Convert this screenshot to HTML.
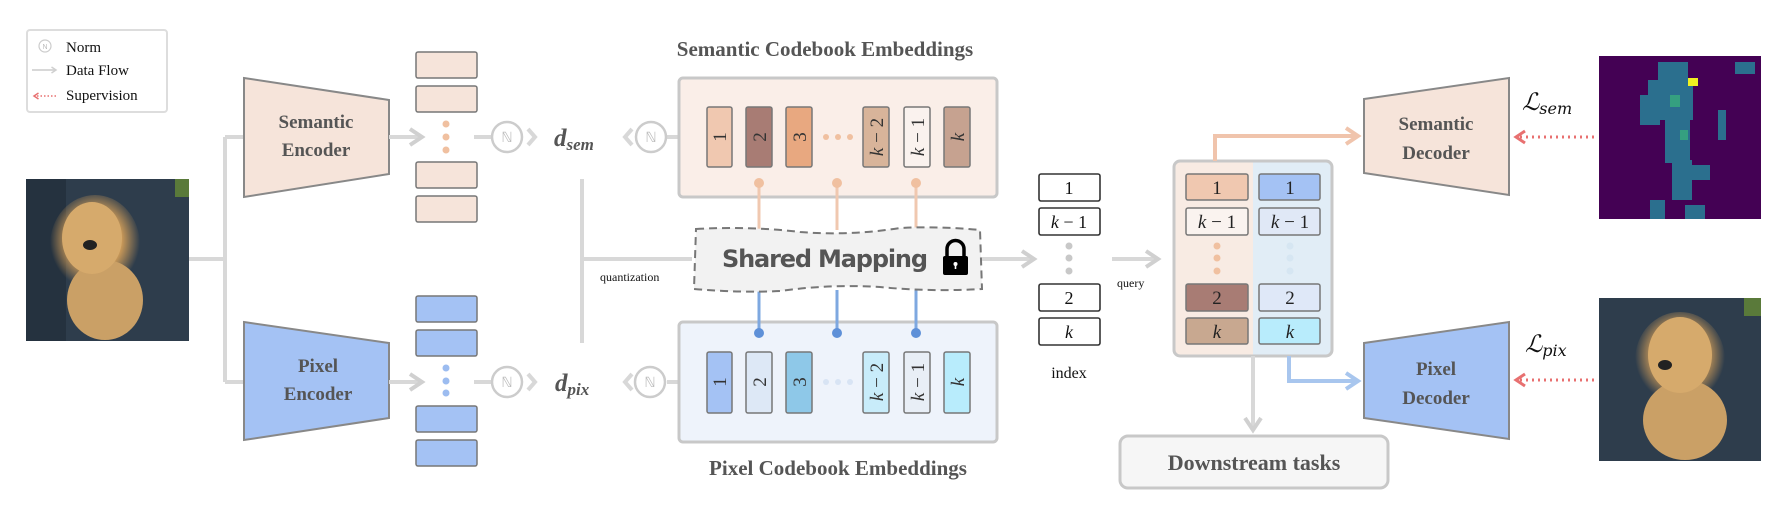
<!DOCTYPE html>
<html><head><meta charset="utf-8"><style>
html,body{margin:0;padding:0;background:#fff}
svg{display:block}
.t{font-family:"Liberation Serif",serif;font-weight:bold;fill:#555}
</style></head><body>
<svg width="1780" height="516" viewBox="0 0 1780 516" xmlns="http://www.w3.org/2000/svg">
<defs>
<marker id="ag" viewBox="0 0 10 10" refX="7" refY="5" markerWidth="5" markerHeight="5" orient="auto"><path d="M1 1 L7 5 L1 9" fill="none" stroke="#d0d0d0" stroke-width="2"/></marker>
<marker id="ao" viewBox="0 0 10 10" refX="7" refY="5" markerWidth="5" markerHeight="5" orient="auto"><path d="M1 1 L7 5 L1 9" fill="none" stroke="#f0c4ac" stroke-width="2"/></marker>
<marker id="ab" viewBox="0 0 10 10" refX="7" refY="5" markerWidth="5" markerHeight="5" orient="auto"><path d="M1 1 L7 5 L1 9" fill="none" stroke="#a8c6ee" stroke-width="2"/></marker>
<marker id="ar" viewBox="0 0 10 10" refX="7" refY="5" markerWidth="5" markerHeight="5" orient="auto"><path d="M1 1 L7 5 L1 9" fill="none" stroke="#e87070" stroke-width="2"/></marker>
<radialGradient id="dog" cx="0.5" cy="0.45" r="0.5"><stop offset="0" stop-color="#d8a868"/><stop offset="0.6" stop-color="#c89858"/><stop offset="1" stop-color="#c89858" stop-opacity="0"/></radialGradient>
</defs>

<rect x="27" y="30" width="140" height="82" rx="3" fill="#fff" stroke="#ddd" stroke-width="2"/>
<circle cx="45" cy="46" r="6" fill="none" stroke="#ccc" stroke-width="1.2"/>
<text x="45" y="49" font-size="7" text-anchor="middle" fill="#bbb" font-family="Liberation Sans">N</text>
<text x="66" y="52" font-family="Liberation Serif" font-size="15" fill="#111">Norm</text>
<line x1="32" y1="70" x2="56" y2="70" stroke="#ccc" stroke-width="1.5" marker-end="url(#ag)"/>
<text x="66" y="75" font-family="Liberation Serif" font-size="15" fill="#111">Data Flow</text>
<line x1="56" y1="96" x2="34" y2="96" stroke="#e87070" stroke-width="1.5" stroke-dasharray="1.5 2" marker-end="url(#ar)"/>
<text x="66" y="100" font-family="Liberation Serif" font-size="15" fill="#111">Supervision</text>

<rect x="26" y="179" width="163" height="162" fill="#2e3d4c"/>
<rect x="26" y="179" width="40" height="162" fill="#25323f"/>
<rect x="175" y="179" width="14" height="18" fill="#5a7a3a"/>
<ellipse cx="95" cy="245" rx="45" ry="50" fill="url(#dog)"/>
<ellipse cx="105" cy="300" rx="38" ry="40" fill="#caa066"/>
<ellipse cx="92" cy="238" rx="30" ry="36" fill="#d6aa6c"/>
<ellipse cx="90" cy="245" rx="7" ry="5" fill="#222"/>

<g stroke="#d8d8d8" stroke-width="4" fill="none">
<path d="M189 259 H225 M225 137 V382 M225 137 H244 M225 382 H244"/>
</g>

<polygon points="244,78 389,100 389,174 244,197" fill="#f6e4da" stroke="#888" stroke-width="2"/>
<text class="t" x="316" y="128" font-size="19" text-anchor="middle">Semantic</text>
<text class="t" x="316" y="156" font-size="19" text-anchor="middle">Encoder</text>
<polygon points="244,322 389,343 389,418 244,440" fill="#a4c2f4" stroke="#888" stroke-width="2"/>
<text class="t" x="318" y="372" font-size="19" text-anchor="middle">Pixel</text>
<text class="t" x="318" y="400" font-size="19" text-anchor="middle">Encoder</text>

<g stroke="#d8d8d8" stroke-width="4" fill="none">
<line x1="389" y1="137" x2="422" y2="137" marker-end="url(#ag)"/>
<line x1="389" y1="382" x2="422" y2="382" marker-end="url(#ag)"/>
</g>

<g stroke="#777" stroke-width="1.5" fill="#f6e4da">
<rect x="416" y="52" width="61" height="26" rx="2"/><rect x="416" y="86" width="61" height="26" rx="2"/>
<rect x="416" y="162" width="61" height="26" rx="2"/><rect x="416" y="196" width="61" height="26" rx="2"/>
</g>
<g fill="#f0c0a0"><circle cx="446" cy="124" r="3.5"/><circle cx="446" cy="137" r="3.5"/><circle cx="446" cy="150" r="3.5"/></g>
<g stroke="#777" stroke-width="1.5" fill="#a4c2f4">
<rect x="416" y="296" width="61" height="26" rx="2"/><rect x="416" y="330" width="61" height="26" rx="2"/>
<rect x="416" y="406" width="61" height="26" rx="2"/><rect x="416" y="440" width="61" height="26" rx="2"/>
</g>
<g fill="#9cbcf0"><circle cx="446" cy="368" r="3.5"/><circle cx="446" cy="381" r="3.5"/><circle cx="446" cy="393" r="3.5"/></g>

<g stroke="#d8d8d8" stroke-width="4" fill="none">
<line x1="474" y1="137" x2="491" y2="137"/><line x1="474" y1="382" x2="491" y2="382"/>
<path d="M528 129 L535 137 L528 145 M528 374 L535 382 L528 390"/>
<path d="M632 129 L625 137 L632 145 M632 374 L625 382 L632 390"/>
<line x1="667" y1="137" x2="680" y2="137"/><line x1="667" y1="382" x2="680" y2="382"/>
<path d="M582 179 V343 M582 259 H692"/>
</g>
<g fill="#fff" stroke="#ccc" stroke-width="2.5">
<circle cx="507" cy="137" r="15"/><circle cx="651" cy="137" r="15"/>
<circle cx="507" cy="382" r="15"/><circle cx="650" cy="382" r="15"/>
</g>
<g font-family="Liberation Sans" font-size="14" fill="#bbb" text-anchor="middle">
<text x="507" y="142">ℕ</text><text x="651" y="142">ℕ</text><text x="507" y="387">ℕ</text><text x="650" y="387">ℕ</text>
</g>
<text x="554" y="146" font-family="Liberation Serif" font-style="italic" font-weight="bold" font-size="25" fill="#555">d<tspan font-size="17" dy="4">sem</tspan></text>
<text x="555" y="391" font-family="Liberation Serif" font-style="italic" font-weight="bold" font-size="25" fill="#555">d<tspan font-size="17" dy="4">pix</tspan></text>
<text x="600" y="281" font-family="Liberation Serif" font-size="12" fill="#111">quantization</text>

<text class="t" x="825" y="56" font-size="21" text-anchor="middle">Semantic Codebook Embeddings</text>
<rect x="679" y="78" width="318" height="119" rx="4" fill="#faeee8" stroke="#c8c8c8" stroke-width="3"/>
<rect x="679" y="322" width="318" height="120" rx="4" fill="#eef3fb" stroke="#c8c8c8" stroke-width="3"/>
<text class="t" x="838" y="475" font-size="21" text-anchor="middle">Pixel Codebook Embeddings</text>

<g stroke="#777" stroke-width="1.5">
<rect x="707" y="107" width="25" height="60" rx="2" fill="#f0c8b0"/>
<rect x="746" y="107" width="26" height="60" rx="2" fill="#a87c74"/>
<rect x="786" y="107" width="26" height="60" rx="2" fill="#e8a880"/>
<rect x="863" y="107" width="26" height="60" rx="2" fill="#d8b49a"/>
<rect x="904" y="107" width="26" height="60" rx="2" fill="#faf2ee"/>
<rect x="944" y="107" width="26" height="60" rx="2" fill="#c6a290"/>
<rect x="707" y="352" width="25" height="61" rx="2" fill="#a4c2f4"/>
<rect x="746" y="352" width="26" height="61" rx="2" fill="#dde8f6"/>
<rect x="786" y="352" width="26" height="61" rx="2" fill="#8ec8e8"/>
<rect x="863" y="352" width="26" height="61" rx="2" fill="#c8ecfa"/>
<rect x="904" y="352" width="26" height="61" rx="2" fill="#e8eef6"/>
<rect x="944" y="352" width="26" height="61" rx="2" fill="#b8ecfc"/>
</g>
<g fill="#f0c0a0"><circle cx="826" cy="137" r="3"/><circle cx="838" cy="137" r="3"/><circle cx="850" cy="137" r="3"/></g>
<g fill="#d8e4f4"><circle cx="826" cy="382" r="3"/><circle cx="838" cy="382" r="3"/><circle cx="850" cy="382" r="3"/></g>
<g font-family="Liberation Serif" font-size="19" fill="#333" text-anchor="middle">
<text transform="translate(726,137) rotate(-90)">1</text>
<text transform="translate(766,137) rotate(-90)">2</text>
<text transform="translate(806,137) rotate(-90)">3</text>
<text transform="translate(883,137) rotate(-90)"><tspan font-style="italic">k</tspan> − 2</text>
<text transform="translate(924,137) rotate(-90)"><tspan font-style="italic">k</tspan> − 1</text>
<text transform="translate(964,137) rotate(-90)" font-style="italic">k</text>
<text transform="translate(726,382) rotate(-90)">1</text>
<text transform="translate(766,382) rotate(-90)">2</text>
<text transform="translate(806,382) rotate(-90)">3</text>
<text transform="translate(883,382) rotate(-90)"><tspan font-style="italic">k</tspan> − 2</text>
<text transform="translate(924,382) rotate(-90)"><tspan font-style="italic">k</tspan> − 1</text>
<text transform="translate(964,382) rotate(-90)" font-style="italic">k</text>
</g>

<g stroke="#f0c8b0" stroke-width="3"><line x1="759" y1="183" x2="759" y2="230"/><line x1="837" y1="183" x2="837" y2="230"/><line x1="916" y1="183" x2="916" y2="230"/></g>
<g fill="#f0c0a0"><circle cx="759" cy="183" r="5"/><circle cx="837" cy="183" r="5"/><circle cx="916" cy="183" r="5"/></g>
<g stroke="#7ea8e0" stroke-width="3"><line x1="759" y1="290" x2="759" y2="333"/><line x1="837" y1="290" x2="837" y2="333"/><line x1="916" y1="290" x2="916" y2="333"/></g>
<g fill="#5e90d8"><circle cx="759" cy="333" r="5"/><circle cx="837" cy="333" r="5"/><circle cx="916" cy="333" r="5"/></g>

<path d="M696 229 Q750 226 800 232 Q850 236 900 228 Q940 226 980 230 L982 289 Q930 292 880 287 Q830 284 780 291 Q740 293 694 289 Z" fill="#f2f2f2" stroke="#777" stroke-width="2" stroke-dasharray="8 5"/>
<text x="722" y="267" font-family="DejaVu Sans" font-weight="bold" font-size="24" fill="#555" textLength="206">Shared Mapping</text>
<rect x="943" y="256" width="25" height="19" rx="2" fill="#000"/>
<path d="M947 256 V249 A8.5 8.5 0 0 1 964 249 V256" fill="none" stroke="#000" stroke-width="3.5"/>
<circle cx="955.5" cy="264" r="2" fill="#fff"/><rect x="954.7" y="264" width="1.6" height="5" fill="#fff"/>

<g stroke="#d8d8d8" stroke-width="4" fill="none">
<line x1="982" y1="259" x2="1034" y2="259" marker-end="url(#ag)"/>
<line x1="1112" y1="259" x2="1158" y2="259" marker-end="url(#ag)"/>
</g>

<g stroke="#333" stroke-width="1.6" fill="#fff">
<rect x="1039" y="174" width="61" height="27" rx="2"/><rect x="1039" y="208" width="61" height="27" rx="2"/>
<rect x="1039" y="284" width="61" height="27" rx="2"/><rect x="1039" y="318" width="61" height="27" rx="2"/>
</g>
<g fill="#c8c8c8"><circle cx="1069" cy="246" r="3.5"/><circle cx="1069" cy="258" r="3.5"/><circle cx="1069" cy="271" r="3.5"/></g>
<g font-family="Liberation Serif" font-size="18" fill="#111" text-anchor="middle">
<text x="1069" y="194">1</text><text x="1069" y="228"><tspan font-style="italic">k</tspan> − 1</text>
<text x="1069" y="304">2</text><text x="1069" y="338" font-style="italic">k</text>
<text x="1069" y="378" font-size="16">index</text>
</g>
<text x="1117" y="287" font-family="Liberation Serif" font-size="12" fill="#111">query</text>

<path d="M1253 161 V356 H1180 Q1174 356 1174 350 V167 Q1174 161 1180 161 Z" fill="#f8ebe3"/>
<path d="M1253 161 V356 H1326 Q1332 356 1332 350 V167 Q1332 161 1326 161 Z" fill="#e1edf6"/>
<rect x="1174" y="161" width="158" height="195" rx="6" fill="none" stroke="#c8c8c8" stroke-width="3"/>
<g stroke="#777" stroke-width="1.5">
<rect x="1186" y="174" width="62" height="26" rx="2" fill="#f0c8b0"/><rect x="1259" y="174" width="61" height="26" rx="2" fill="#a4c2f4"/>
<rect x="1186" y="208" width="62" height="27" rx="2" fill="#faf3ef"/><rect x="1259" y="208" width="61" height="27" rx="2" fill="#e0e8f6"/>
<rect x="1186" y="284" width="62" height="27" rx="2" fill="#a87c74"/><rect x="1259" y="284" width="61" height="27" rx="2" fill="#dfe8f8"/>
<rect x="1186" y="318" width="62" height="26" rx="2" fill="#c8a890"/><rect x="1259" y="318" width="61" height="26" rx="2" fill="#b8ecfc"/>
</g>
<g fill="#f0c0a0"><circle cx="1217" cy="246" r="3.5"/><circle cx="1217" cy="258" r="3.5"/><circle cx="1217" cy="271" r="3.5"/></g>
<g fill="#d6e6f2"><circle cx="1290" cy="246" r="3.5"/><circle cx="1290" cy="258" r="3.5"/><circle cx="1290" cy="271" r="3.5"/></g>
<g font-family="Liberation Serif" font-size="19" fill="#222" text-anchor="middle">
<text x="1217" y="194">1</text><text x="1290" y="194">1</text>
<text x="1217" y="228"><tspan font-style="italic">k</tspan> − 1</text><text x="1290" y="228"><tspan font-style="italic">k</tspan> − 1</text>
<text x="1217" y="304">2</text><text x="1290" y="304">2</text>
<text x="1217" y="338" font-style="italic">k</text><text x="1290" y="338" font-style="italic">k</text>
</g>

<path d="M1215 161 V136 H1358" fill="none" stroke="#f0c4ac" stroke-width="4" marker-end="url(#ao)"/>
<path d="M1289 356 V381 H1358" fill="none" stroke="#a8c6ee" stroke-width="4" marker-end="url(#ab)"/>
<line x1="1253" y1="356" x2="1253" y2="430" stroke="#d8d8d8" stroke-width="4" marker-end="url(#ag)"/>
<rect x="1120" y="436" width="268" height="52" rx="8" fill="#f6f6f6" stroke="#c8c8c8" stroke-width="3"/>
<text class="t" x="1254" y="470" font-size="22" text-anchor="middle">Downstream tasks</text>

<polygon points="1364,99 1509,78 1509,195 1364,173" fill="#f6e4da" stroke="#888" stroke-width="2"/>
<text class="t" x="1436" y="130" font-size="19" text-anchor="middle">Semantic</text>
<text class="t" x="1436" y="159" font-size="19" text-anchor="middle">Decoder</text>
<polygon points="1364,343 1509,322 1509,439 1364,418" fill="#a4c2f4" stroke="#888" stroke-width="2"/>
<text class="t" x="1436" y="375" font-size="19" text-anchor="middle">Pixel</text>
<text class="t" x="1436" y="404" font-size="19" text-anchor="middle">Decoder</text>

<text x="1522" y="110" font-family="DejaVu Serif" font-style="italic" font-size="24" fill="#111">ℒ<tspan font-size="16" dy="4">sem</tspan></text>
<text x="1525" y="352" font-family="DejaVu Serif" font-style="italic" font-size="24" fill="#111">ℒ<tspan font-size="16" dy="4">pix</tspan></text>
<line x1="1594" y1="137" x2="1516" y2="137" stroke="#e87070" stroke-width="3" stroke-dasharray="2 4" marker-end="url(#ar)"/>
<line x1="1594" y1="380" x2="1516" y2="380" stroke="#e87070" stroke-width="3" stroke-dasharray="2 4" marker-end="url(#ar)"/>

<rect x="1599" y="56" width="162" height="163" fill="#440154"/>
<g fill="#2b6f8e">
<rect x="1658" y="62" width="30" height="20"/><rect x="1648" y="80" width="45" height="40"/>
<rect x="1640" y="95" width="20" height="30"/><rect x="1665" y="118" width="25" height="45"/>
<rect x="1672" y="160" width="20" height="40"/><rect x="1690" y="165" width="20" height="15"/>
<rect x="1650" y="200" width="15" height="19"/><rect x="1685" y="205" width="20" height="14"/>
<rect x="1735" y="62" width="20" height="12"/><rect x="1718" y="110" width="8" height="30"/>
</g>
<g fill="#35a080"><rect x="1670" y="95" width="10" height="12"/><rect x="1680" y="130" width="8" height="10"/></g>
<rect x="1688" y="78" width="10" height="8" fill="#f0f020"/>

<rect x="1599" y="298" width="162" height="163" fill="#2e3d4c"/>
<rect x="1744" y="298" width="17" height="18" fill="#5a7a3a"/>
<ellipse cx="1680" cy="360" rx="45" ry="48" fill="url(#dog)"/>
<ellipse cx="1685" cy="420" rx="42" ry="40" fill="#caa066"/>
<ellipse cx="1680" cy="355" rx="32" ry="38" fill="#d6aa6c"/>
<ellipse cx="1665" cy="365" rx="7" ry="5" fill="#222"/>
</svg>
</body></html>
